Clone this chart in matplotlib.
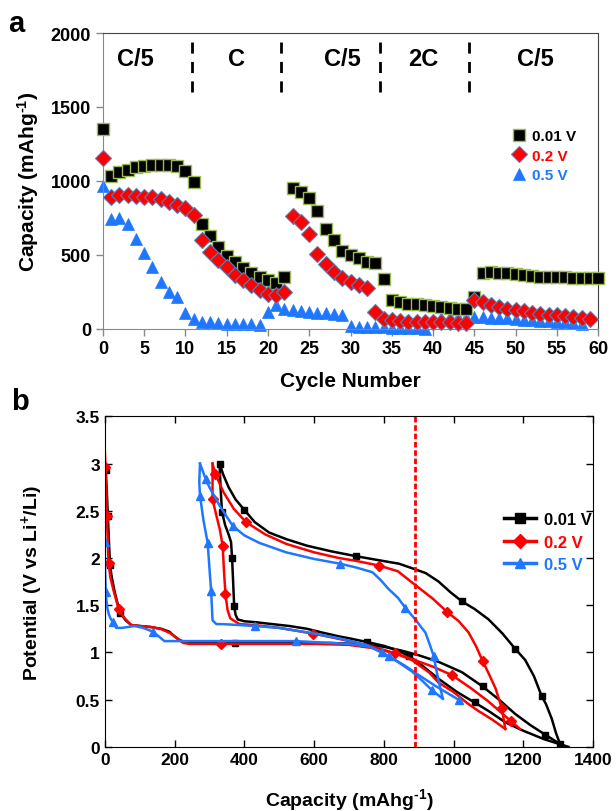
import matplotlib
matplotlib.use('Agg')
from matplotlib import pyplot as plt
from matplotlib.lines import Line2D
import numpy as np

plt.rcParams['font.family'] = ['Liberation Sans', 'DejaVu Sans']
plt.rcParams['font.weight'] = 'bold'
plt.rcParams['mathtext.fontset'] = 'custom'
plt.rcParams['mathtext.rm'] = 'Liberation Sans:bold'
plt.rcParams['mathtext.bf'] = 'Liberation Sans:bold'
plt.rcParams['mathtext.default'] = 'bf'

# ---- panel a: rate capability ----
cap_001 = [1350, 1036, 1059, 1077, 1092, 1099, 1108, 1110, 1108, 1101,
           1070, 991, 709, 626, 552, 495, 450, 410, 376, 349,
           327, 311, 349, 950, 928, 883, 793, 676, 597, 525,
           498, 477, 450, 446, 333, 191, 180, 169, 164, 158,
           151, 146, 140, 135, 131, 214, 378, 383, 378, 374,
           367, 362, 358, 353, 351, 349, 347, 345, 345, 345, 345]
cap_02 = [1153, 890, 905, 906, 901, 894, 890, 878, 860, 840,
          818, 766, 597, 518, 462, 417, 360, 327, 293, 259,
          236, 225, 248, 761, 721, 642, 507, 439, 383, 343,
          315, 293, 275, 113, 68, 56, 50, 45, 45, 45,
          44, 44, 44, 41, 40, 195, 178, 162, 146, 135,
          124, 117, 108, 101, 95, 90, 83, 79, 72, 68]
cap_05 = [968, 743, 750, 709, 608, 514, 417, 315, 248, 214,
          108, 63, 45, 45, 41, 34, 34, 29, 29, 22,
          113, 158, 135, 124, 117, 113, 108, 106, 101, 95,
          15, 14, 12, 10, 8, 6, 5, 3, 2, 1,
          60, 75, 80, 80, 82, 80, 78, 75, 72, 70,
          66, 62, 58, 54, 50, 46, 42, 38, 34]
rate_labels = ['C/5', 'C', 'C/5', '2C', 'C/5']
rate_label_x = [3.9, 16.2, 29, 38.8, 52.4]
rate_bounds = [10.8, 21.6, 33.6, 44.4]

# ---- panel b: voltage profiles (discharge 1, charge, discharge 2) ----
k_d1_x = [0, 3, 6, 9, 15, 20, 28, 36, 45, 60, 76, 100, 130, 162, 185, 200, 215, 230, 300, 373,
          450, 550, 650, 720, 800, 850, 900, 957, 1024, 1083, 1130, 1176, 1220, 1262, 1305]
k_d1_y = [3.0, 2.93, 2.7, 2.44, 1.93, 1.8, 1.65, 1.53, 1.42, 1.34, 1.29, 1.28, 1.27, 1.25, 1.22, 1.17, 1.13, 1.11, 1.1, 1.1,
          1.1, 1.1, 1.1, 1.09, 1.06, 1.02, 0.97, 0.9, 0.79, 0.64, 0.5, 0.35, 0.23, 0.13, 0.03]
k_d1_m = [1, 3, 4, 8, 19, 29, 33]
k_ch_x = [1305, 1293, 1281, 1265, 1252, 1230, 1205, 1176, 1140, 1100, 1060, 1024, 990, 957, 920,
          890, 843, 780, 719, 650, 580, 520, 471, 430, 400, 375, 355, 340, 329]
k_ch_y = [0.03, 0.15, 0.3, 0.45, 0.54, 0.75, 0.92, 1.04, 1.2, 1.35, 1.46, 1.54, 1.64, 1.75, 1.84,
          1.88, 1.94, 1.98, 2.02, 2.07, 2.13, 2.2, 2.27, 2.38, 2.51, 2.62, 2.75, 2.88, 3.0]
k_ch_m = [0, 4, 7, 11, 18, 24, 28]
k_d2_x = [329, 332, 336, 345, 355, 362, 365, 368, 371, 375, 381, 400, 433, 480, 529, 580,
          624, 671, 700, 752, 800, 840, 873, 910, 957, 1010, 1060, 1100, 1148, 1200, 1260, 1329]
k_d2_y = [3.0, 2.75, 2.49, 2.35, 2.25, 2.17, 2.0, 1.75, 1.49, 1.4, 1.35, 1.33, 1.32, 1.3, 1.28, 1.25,
          1.21, 1.17, 1.15, 1.11, 1.07, 1.02, 0.96, 0.86, 0.72, 0.58, 0.47, 0.38, 0.26, 0.17, 0.08, 0.0]
k_d2_m = [2, 6, 8, 19, 22, 26]

r_d1_x = [0, 2, 4, 6, 9, 11, 16, 25, 40, 55, 76, 100, 130, 160, 190, 210, 225, 245, 333, 400,
          500, 600, 700, 780, 840, 880, 929, 957, 1000, 1040, 1071, 1110, 1148]
r_d1_y = [3.17, 2.96, 2.75, 2.45, 2.15, 1.95, 1.8, 1.66, 1.46, 1.37, 1.29, 1.28, 1.27, 1.25, 1.2, 1.14, 1.1, 1.09, 1.09, 1.09,
          1.09, 1.09, 1.08, 1.04, 0.98, 0.92, 0.79, 0.68, 0.58, 0.46, 0.38, 0.29, 0.19]
r_d1_m = [1, 3, 5, 8, 18]
r_ch_x = [1148, 1143, 1138, 1120, 1100, 1083, 1065, 1043, 1015, 981, 940, 881, 840, 786, 720,
          671, 600, 520, 460, 405, 370, 340, 317, 309]
r_ch_y = [0.19, 0.3, 0.41, 0.62, 0.78, 0.91, 1.06, 1.21, 1.33, 1.43, 1.57, 1.74, 1.86, 1.92, 1.97,
          2.0, 2.06, 2.15, 2.25, 2.38, 2.52, 2.7, 2.89, 3.0]
r_ch_m = [2, 5, 9, 13, 19, 22]
r_d2_x = [309, 309, 309, 320, 330, 338, 342, 346, 352, 360, 386, 430, 500, 597, 650, 700, 760,
          833, 880, 940, 995, 1050, 1100, 1165, 1190]
r_d2_y = [3.0, 2.8, 2.62, 2.45, 2.3, 2.13, 1.85, 1.62, 1.45, 1.36, 1.3, 1.29, 1.26, 1.2, 1.16, 1.12, 1.07,
          0.99, 0.93, 0.85, 0.76, 0.62, 0.48, 0.27, 0.19]
r_d2_m = [2, 5, 7, 13, 17, 20, 23]

b_d1_x = [0, 0, 1, 3, 5, 8, 12, 18, 24, 33, 50, 86, 110, 138, 155, 171, 185, 200, 300, 400,
          548, 650, 700, 760, 795, 840, 880, 910, 938, 955, 969]
b_d1_y = [2.4, 2.17, 1.9, 1.64, 1.55, 1.46, 1.4, 1.35, 1.32, 1.26, 1.26, 1.28, 1.26, 1.22, 1.17, 1.12, 1.12, 1.12, 1.12, 1.12,
          1.12, 1.1, 1.09, 1.06, 1.0, 0.9, 0.8, 0.7, 0.6, 0.55, 0.51]
b_d1_m = [1, 3, 8, 13, 20, 24, 28]
b_ch_x = [969, 960, 950, 943, 930, 919, 890, 862, 840, 814, 790, 767, 720, 674, 600, 520, 443,
          400, 367, 330, 300, 289, 273]
b_ch_y = [0.51, 0.65, 0.82, 0.96, 1.1, 1.21, 1.35, 1.47, 1.58, 1.67, 1.77, 1.85, 1.9, 1.94, 1.99, 2.06, 2.16,
          2.24, 2.34, 2.55, 2.75, 2.84, 3.0]
b_ch_m = [3, 7, 13, 18, 21]
b_d2_x = [273, 271, 273, 283, 295, 300, 305, 309, 320, 338, 430, 500, 600, 671, 750, 814, 860, 900, 950, 1014]
b_d2_y = [3.0, 2.8, 2.66, 2.4, 2.16, 1.9, 1.65, 1.34, 1.3, 1.3, 1.28, 1.26, 1.2, 1.15, 1.08, 0.96, 0.86, 0.76, 0.64, 0.5]
b_d2_m = [2, 4, 6, 10, 15, 19]

cutoff_line = 890

BLUE = '#1F77FF'
CAP_LABEL = 'Capacity (mAhg$^{\\text{-1}}$)'

fig = plt.figure(figsize=(6.16, 8.12), dpi=100)

# ================= panel a =================
ax = fig.add_axes([0.167, 0.594, 0.804, 0.364])
ax.plot(np.arange(len(cap_001)), cap_001, 's', ms=9, color='black',
        markeredgecolor='#9BBB59', markeredgewidth=1, label='0.01 V', zorder=3)
ax.plot(np.arange(len(cap_02)), cap_02, 'D', ms=8.3, color='red',
        markeredgecolor='#4F81BD', markeredgewidth=0.8, label='0.2 V', zorder=4)
ax.plot(np.arange(len(cap_05)), cap_05, '^', ms=9, color=BLUE,
        markeredgecolor=BLUE, markeredgewidth=0.5, label='0.5 V', zorder=2)

ax.vlines(rate_bounds, 1600, 1950, colors='black', linestyles=(0, (4, 3)), lw=2)
for lab, xx in zip(rate_labels, rate_label_x):
    ax.text(xx, 1830, lab, ha='center', va='center', fontsize=17, fontweight='bold')

ax.set_xlim(0, 60)
ax.set_ylim(0, 2000)
ax.set_xticks(np.arange(0, 61, 5))
ax.set_yticks(np.arange(0, 2001, 500))
ax.tick_params(direction='out', length=5, width=1, color='#888888', labelsize=13)
ax.set_xlabel('Cycle Number', fontsize=15, fontweight='bold', labelpad=10)
ax.set_ylabel(CAP_LABEL, fontsize=15, fontweight='bold', labelpad=7)
for side in ['left', 'bottom']:
    ax.spines[side].set_color('#888888')
for side in ['top', 'right']:
    ax.spines[side].set_color('#444444')
for ln in ax.lines:
    ln.set_clip_on(False)
leg = ax.legend(loc='upper left', bbox_to_anchor=(0.81, 0.70), frameon=False,
                handlelength=0.9, handletextpad=0.4, labelspacing=0.35, borderpad=0,
                prop={'size': 11, 'weight': 'bold'})
for txt, c in zip(leg.get_texts(), ['black', 'red', BLUE]):
    txt.set_color(c)

# ================= panel b =================
bx = fig.add_axes([0.170, 0.079, 0.793, 0.407])
series = [
    ('0.01 V', 'black', 's', 5, [(k_d1_x, k_d1_y, k_d1_m), (k_ch_x, k_ch_y, k_ch_m), (k_d2_x, k_d2_y, k_d2_m)]),
    ('0.2 V', 'red', 'D', 5, [(r_d1_x, r_d1_y, r_d1_m), (r_ch_x, r_ch_y, r_ch_m), (r_d2_x, r_d2_y, r_d2_m)]),
    ('0.5 V', BLUE, '^', 6, [(b_d1_x, b_d1_y, b_d1_m), (b_ch_x, b_ch_y, b_ch_m), (b_d2_x, b_d2_y, b_d2_m)]),
]
handles = []
for name, col, mk, ms, segs in series:
    for xs, ys, mi in segs:
        bx.plot(xs, ys, '-', color=col, lw=1.8, marker=mk, ms=ms, markevery=mi)
    handles.append(Line2D([], [], color=col, lw=2.5, marker=mk, ms=7, label=name))

bx.axvline(cutoff_line, color='red', lw=2, linestyle=(0, (2, 1)))
bx.set_xlim(0, 1400)
bx.set_ylim(0, 3.5)
bx.set_xticks(np.arange(0, 1401, 200))
bx.set_yticks(np.arange(0, 3.51, 0.5))
bx.set_yticklabels(['0', '0.5', '1', '1.5', '2', '2.5', '3', '3.5'])
bx.tick_params(direction='in', length=5, width=1, top=True, right=True, labelsize=12.5)
bx.set_xlabel(CAP_LABEL, fontsize=14, fontweight='bold', labelpad=14)
bx.set_ylabel('Potential (V vs Li$^{\\text{+}}$/Li)', fontsize=14, fontweight='bold', labelpad=22)
leg2 = bx.legend(handles=handles, loc='upper left', bbox_to_anchor=(0.80, 0.735), frameon=False,
                 handlelength=1.9, handletextpad=0.5, labelspacing=0.45, borderpad=0,
                 prop={'size': 12, 'weight': 'bold'})
for txt, c in zip(leg2.get_texts(), ['black', 'red', BLUE]):
    txt.set_color(c)

fig.text(0.014, 0.988, 'a', fontsize=21, fontweight='bold', va='top')
fig.text(0.018, 0.522, 'b', fontsize=21, fontweight='bold', va='top')

fig.savefig('out.png', dpi=100)
